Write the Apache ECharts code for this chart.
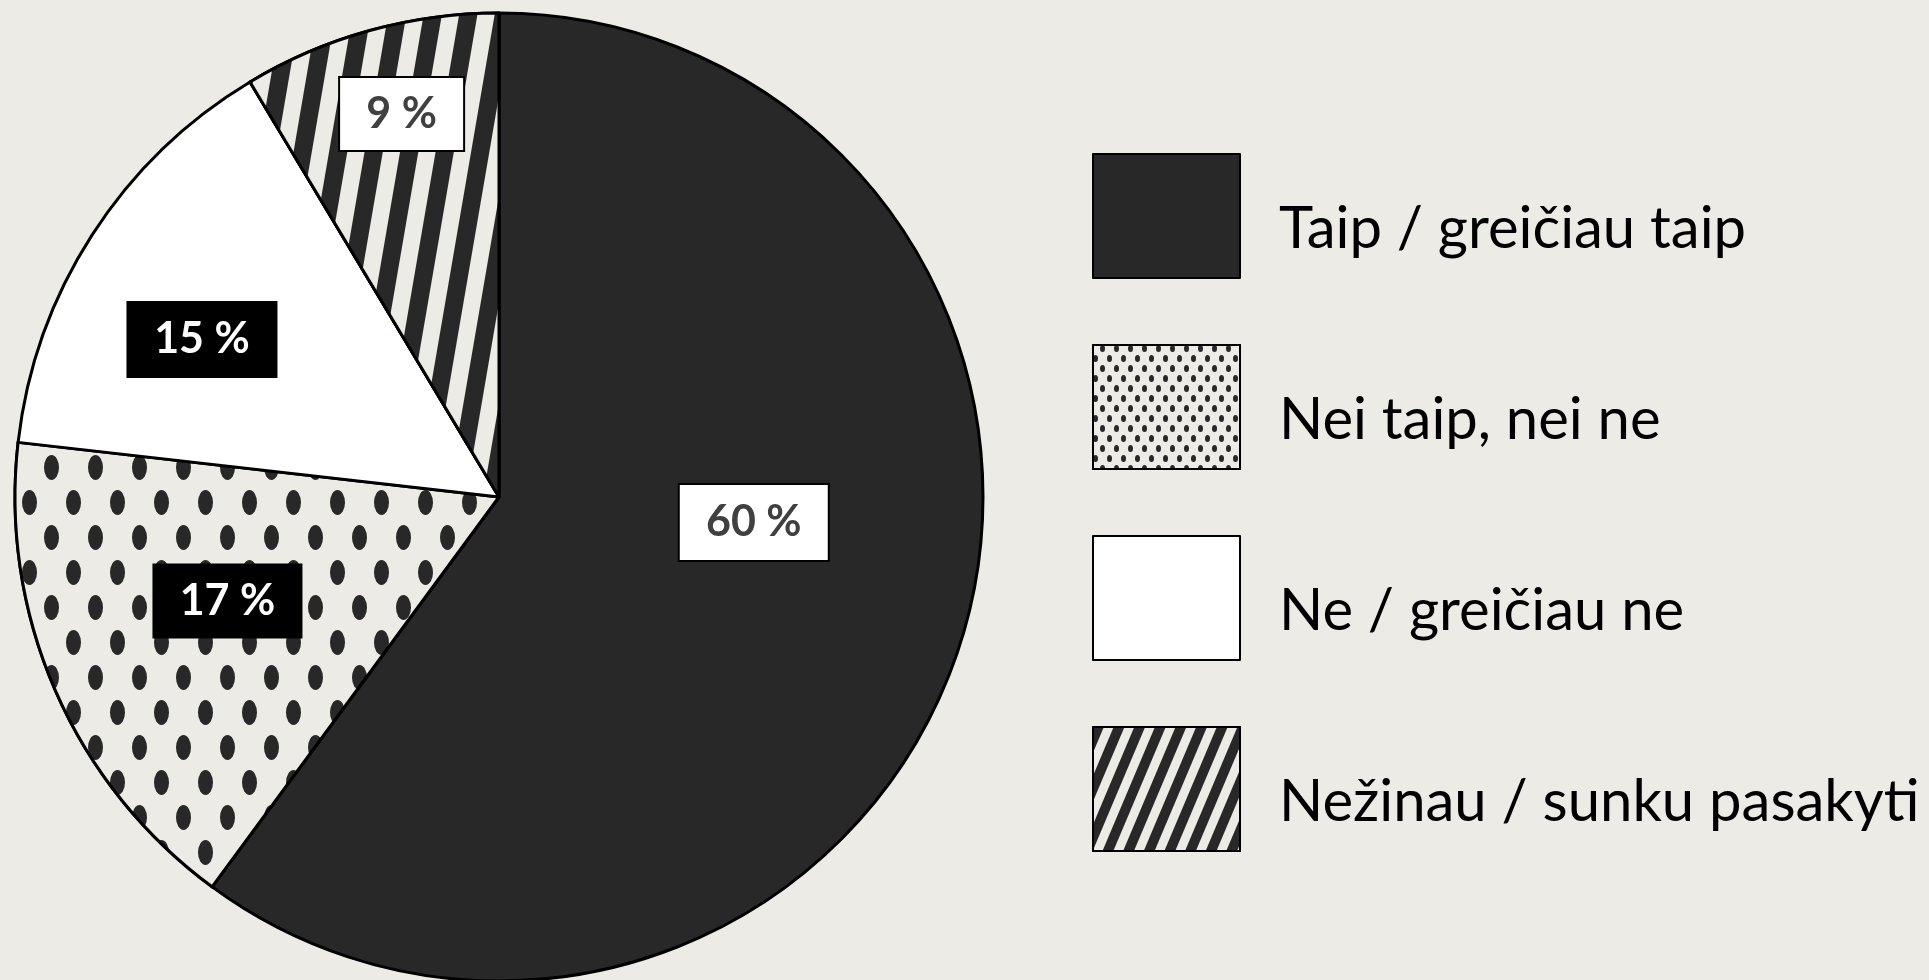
<!DOCTYPE html>
<html>
<head>
<meta charset="utf-8">
<script src="https://cdn.jsdelivr.net/npm/echarts@6/dist/echarts.min.js"></script>
<style>
  html, body { margin: 0; padding: 0; background: #ecebe5; }
  #chart { width: 1929px; height: 980px; }
</style>
</head>
<body>
<div id="chart"></div>
<script>
// Data (shares of the circle, labels as printed)
const categories = ['Taip / greičiau taip', 'Nei taip, nei ne', 'Ne / greičiau ne', 'Nežinau / sunku pasakyti'];
const shares = [60.1, 16.7, 14.6, 8.6];
const labelTexts = ['60 %', '17 %', '15 %', '9 %'];

const BG = '#ecebe5';
const DARK = '#282828';

// ellipse used for the dotted pattern
const dotPath = 'path://M50,0 A50,50 0 1,1 50,100 A50,50 0 1,1 50,0 Z';

const dotsBig = {
  symbol: dotPath, symbolSize: 1, symbolKeepAspect: false,
  color: DARK, backgroundColor: BG,
  dashArrayX: [[15, 29], [0, 22, 15, 7]],
  dashArrayY: [25, 10]
};
const dotsSmall = {
  symbol: dotPath, symbolSize: 1, symbolKeepAspect: false,
  color: DARK, backgroundColor: BG,
  dashArrayX: [[5, 9], [0, 7, 5, 2]],
  dashArrayY: [7, 3]
};
const stripesBig = {
  symbol: 'rect', symbolSize: 1, symbolKeepAspect: false,
  color: DARK, backgroundColor: BG,
  dashArrayX: [18, 17],
  dashArrayY: [35, 0],
  rotation: 0.17
};
const stripesSmall = {
  symbol: 'rect', symbolSize: 1, symbolKeepAspect: false,
  color: DARK, backgroundColor: BG,
  dashArrayX: [10, 9],
  dashArrayY: [19, 0],
  rotation: 0.4
};

// slice look, label box look and label nudges (layout only)
const sliceStyles = [
  { color: DARK },
  { color: BG, decal: dotsBig },
  { color: '#ffffff' },
  { color: BG, decal: stripesBig }
];
const legendDecals = [null, dotsSmall, null, stripesSmall];
const labelBoxes = [
  { width: 148, height: 75, color: '#404040', backgroundColor: '#ffffff', borderColor: '#000', borderWidth: 2 },
  { width: 150, height: 75, color: '#ffffff', backgroundColor: '#000000', borderWidth: 0 },
  { width: 151, height: 77, color: '#ffffff', backgroundColor: '#000000', borderWidth: 0 },
  { width: 123, height: 72, color: '#404040', backgroundColor: '#ffffff', borderColor: '#000', borderWidth: 2 }
];
const labelShift = [[22, -51], [-47, 6], [-91, -25], [-32, -147]];

const pieData = categories.map(function (name, i) {
  const box = labelBoxes[i];
  return {
    name: name,
    value: shares[i],
    itemStyle: sliceStyles[i],
    label: Object.assign({ lineHeight: box.height }, box)
  };
});

const legendData = categories.map(function (name, i) {
  const item = { name: name };
  if (legendDecals[i]) item.itemStyle = { decal: legendDecals[i] };
  return item;
});

const chart = echarts.init(document.getElementById('chart'));
chart.setOption({
  backgroundColor: BG,
  animation: false,
  legend: {
    orient: 'vertical',
    left: 1092,
    top: 153,
    padding: 0,
    itemWidth: 147,
    itemHeight: 124,
    itemGap: 65,
    icon: 'rect',
    selectedMode: false,
    data: legendData,
    formatter: '{t|{name}}',
    textStyle: {
      fontFamily: 'Lato',
      fontSize: 58,
      color: '#000',
      rich: {
        t: {
          fontFamily: 'Lato',
          fontSize: 58,
          lineHeight: 60,
          color: '#000',
          padding: [26, 0, 0, 34]
        }
      }
    }
  },
  series: [{
    type: 'pie',
    center: [499, 497],
    radius: 484,
    startAngle: 90,
    clockwise: true,
    avoidLabelOverlap: false,
    silent: true,
    emphasis: { disabled: true },
    itemStyle: { borderColor: '#000', borderWidth: 3 },
    label: {
      show: true,
      position: 'inside',
      fontFamily: 'Lato',
      fontWeight: 'bold',
      fontSize: 43,
      align: 'center',
      verticalAlign: 'middle',
      formatter: function (p) { return labelTexts[p.dataIndex]; }
    },
    labelLine: { show: false },
    labelLayout: function (p) {
      return { dx: labelShift[p.dataIndex][0], dy: labelShift[p.dataIndex][1] };
    },
    data: pieData
  }]
});
</script>
</body>
</html>
